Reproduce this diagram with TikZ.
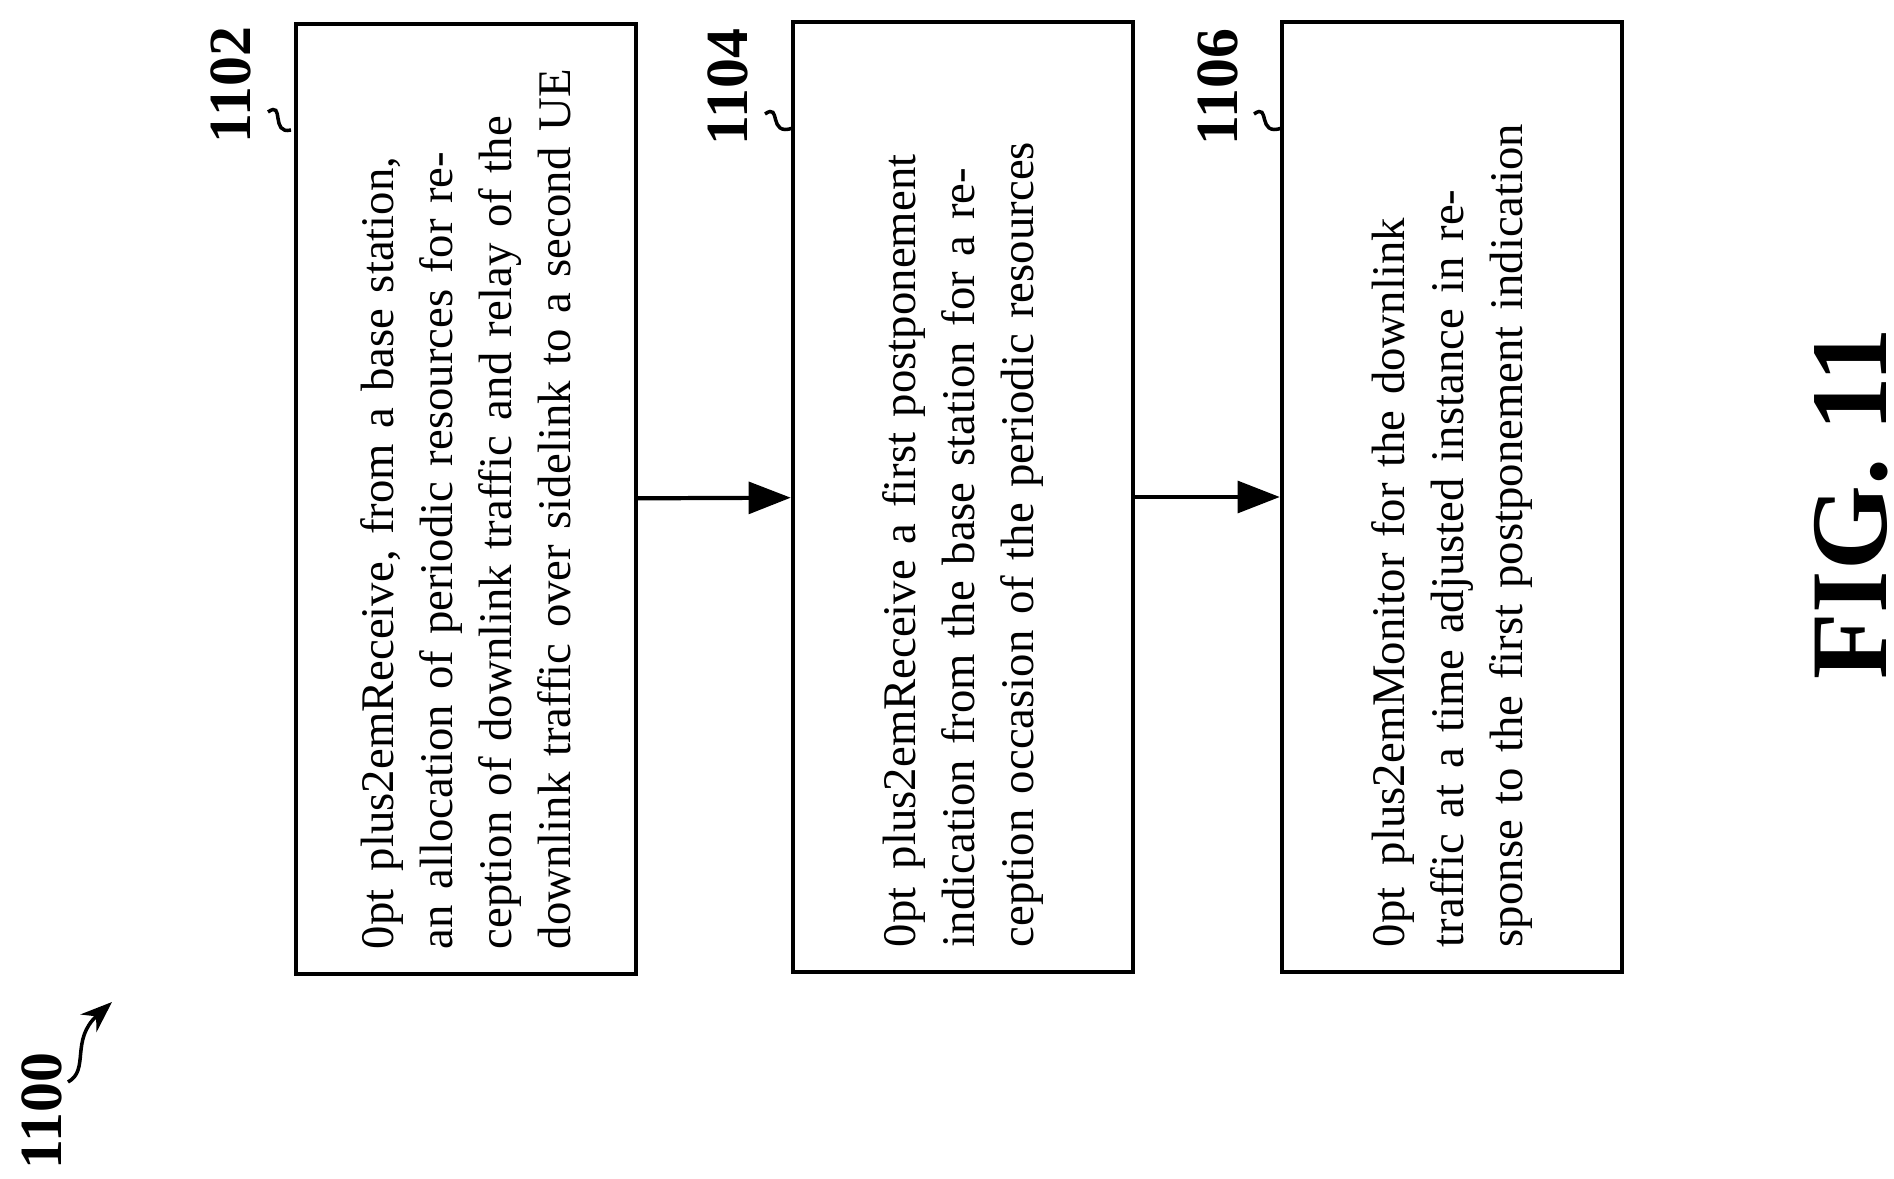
\documentclass[tikz,border=0pt]{standalone}
\usepackage{fontspec}
\setmainfont{Liberation Serif}
\usetikzlibrary{arrows.meta}
\begin{document}
\begin{tikzpicture}[x=0.01cm,y=-0.01cm,
  stage/.style={draw,line width=1.2pt,rotate=90,minimum width=9.5cm,minimum height=3.4cm,
    text width=9.0cm,align=center,font=\fontsize{13.3}{16.8}\selectfont\hyphenpenalty=10000,inner sep=0pt},
  ref/.style={rotate=90,font=\bfseries\fontsize{17}{20}\selectfont},
  flow/.style={-{Triangle[length=12pt,width=9pt]},line width=1.2pt},
  tag/.style={line width=1pt}]
\useasboundingbox (0,0) rectangle (1894,1179);
\node[stage] (b1) at (466,499) {Receive, from a base station, an allocation of periodic resources for reception of downlink traffic and relay of the downlink traffic over sidelink to a second UE};
\node[stage] (b2) at (963,497) {Receive a first postponement indication from the base station for a reception occasion of the periodic resources};
\node[stage] (b3) at (1452,497) {Monitor for the downlink traffic at a time adjusted instance in response to the first postponement indication};
\draw[flow] (b1) -- (b2);
\draw[flow] (b2) -- (b3);
% reference numerals
\node[ref] (n1102) at (231,85) {1102};
\node[ref] (n1104) at (728,87) {1104};
\node[ref] (n1106) at (1218,87) {1106};
\node[ref] (n1100) at (42,1111) {1100};
\node[rotate=90,font=\bfseries\fontsize{31}{35}\selectfont] (fig) at (1851,504) {FIG. 11};
\coordinate (c1) at (291,130);
\coordinate (c2) at (793,128);
\coordinate (c3) at (1282,128);
\draw[tag] (268,112) .. controls (285,100) and (270,135) .. (c1);
\draw[tag] (765,114) .. controls (782,102) and (767,137) .. (c2);
\draw[tag] (1254,114) .. controls (1271,102) and (1256,137) .. (c3);
\coordinate (a0) at (112,1002);
\draw[tag,-{Stealth[length=9pt]}] (68,1082) .. controls (90,1070) and (70,1040) .. (a0);
\end{tikzpicture}
\end{document}
